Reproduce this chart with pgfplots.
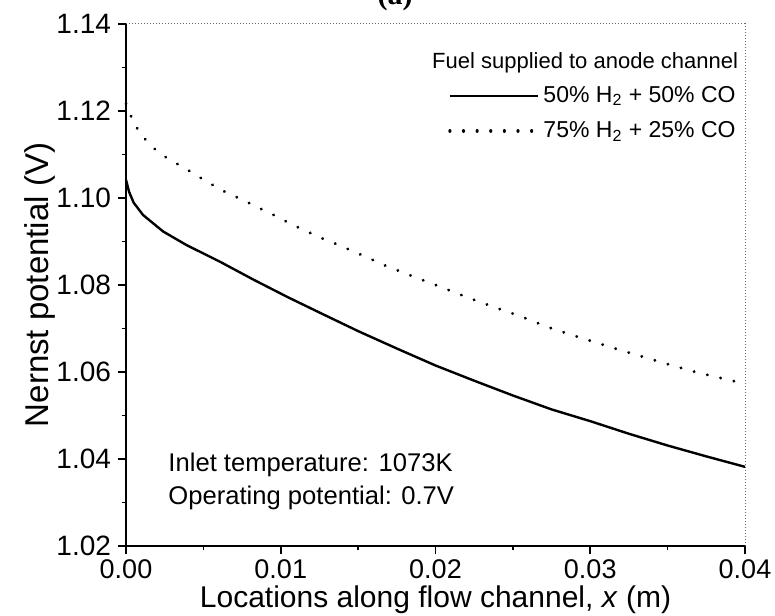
\documentclass[border=0pt]{standalone}
\usepackage{pgfplots}
\pgfplotsset{compat=1.18}
\usepackage{fontspec}
\setmainfont{Liberation Sans}
\newfontfamily\serifbf{Liberation Serif}
\begin{document}
\begin{tikzpicture}
\begin{axis}[
  scale only axis, width=309.5pt, height=261pt,
  at={(0,0)}, anchor=south west,
  xmin=0, xmax=0.04, ymin=1.02, ymax=1.14,
  axis x line*=bottom, axis y line*=left,
  axis line style={line width=0.8pt, -},
  xtick={0,0.01,0.02,0.03,0.04},
  ytick={1.02,1.04,1.06,1.08,1.10,1.12,1.14},
  minor x tick num=1, minor y tick num=1,
  tick align=outside, major tick length=4pt, minor tick length=2pt,
  tick style={black, line width=0.8pt},
  scaled x ticks=false, scaled y ticks=false,
  xticklabel style={font=\fontsize{13.5}{15}\selectfont, yshift=-2pt, inner sep=0.5pt, /pgf/number format/.cd, fixed, fixed zerofill, precision=2},
  yticklabel style={font=\fontsize{14}{16}\selectfont, /pgf/number format/.cd, fixed, fixed zerofill, precision=2},
  /pgf/number format/assume math mode=true,
  xlabel={Locations along flow channel, \textit{x} (m)},
  ylabel={Nernst potential (V)},
  x label style={font=\fontsize{15}{17}\selectfont, inner sep=0pt, at={(axis description cs:0.5,0)}, anchor=base, yshift=-30.75pt},
  y label style={font=\fontsize{16.5}{18}\selectfont, at={(axis description cs:0,0.5)}, anchor=center, yshift=43pt},
  legend style={at={(rel axis cs:0.52,0.889)}, anchor=north west, draw=none, fill=none,
    font=\fontsize{11.5}{13}\selectfont, row sep=4pt, inner sep=0pt},
  legend cell align=left,
  legend image code/.code={\draw[#1] (0pt,0pt) -- (44pt,0pt);},
  clip=false,
]
\addplot[black, line width=1.2pt, line join=round] coordinates {
(0,1.1042) (0.0002,1.1014) (0.0005,1.0989) (0.0011,1.0961) (0.0024,1.0923)
(0.0039,1.0892) (0.0061,1.0853) (0.0082,1.0813) (0.0104,1.0773) (0.0126,1.0735)
(0.0150,1.0694) (0.0175,1.0654) (0.0200,1.0615) (0.0225,1.0580) (0.0250,1.0546)
(0.0275,1.0514) (0.0300,1.0487) (0.0325,1.0458) (0.0350,1.0431) (0.0375,1.0406)
(0.0400,1.0382)
};
\addlegendentry{50\% H\textsubscript{2} + 50\% CO}
\addplot[black, line width=1.6pt, line cap=round, dash pattern=on 0.01pt off 6.8pt] coordinates {
(0,1.1217) (0.0005,1.1172) (0.0011,1.1140) (0.0019,1.1111) (0.0028,1.1088)
(0.0037,1.1071) (0.0046,1.1051) (0.0054,1.1034) (0.0063,1.1016) (0.0072,1.1001)
(0.0081,1.0986) (0.0090,1.0970) (0.0099,1.0955) (0.0107,1.0939) (0.0116,1.0925)
(0.0124,1.0911) (0.0134,1.0897) (0.0151,1.0871) (0.0168,1.0844) (0.0186,1.0819)
(0.0203,1.0796) (0.0221,1.0771) (0.0238,1.0749) (0.0255,1.0728) (0.0272,1.0704)
(0.0290,1.0683) (0.0299,1.0673) (0.0317,1.0653) (0.0334,1.0635) (0.0352,1.0616)
(0.0369,1.0599) (0.0387,1.0584) (0.0400,1.0573)
};
\addlegendentry{75\% H\textsubscript{2} + 25\% CO}
\draw[black!60, line width=0.5pt, densely dotted] (rel axis cs:0,1) -- (rel axis cs:1,1) -- (rel axis cs:1,0);
\node[anchor=west, inner sep=0pt, font=\fontsize{11}{13}\selectfont] at (rel axis cs:0.494,0.925) {Fuel supplied to anode channel};
\node[anchor=west, inner sep=0pt, font=\fontsize{12.8}{14}\selectfont] at (rel axis cs:0.068,0.155) {Inlet temperature: 1073K};
\node[anchor=west, inner sep=0pt, font=\fontsize{12.8}{14}\selectfont] at (rel axis cs:0.068,0.092) {Operating potential: 0.7V};
\end{axis}
\node[anchor=base, font=\serifbf\bfseries\fontsize{15}{17}\selectfont] at (134.5pt,270.5pt) {(a)};
\pgfresetboundingbox
\path[use as bounding box] (-63pt,-34.5pt) rectangle (324.5pt,273pt);
\end{tikzpicture}
\end{document}
